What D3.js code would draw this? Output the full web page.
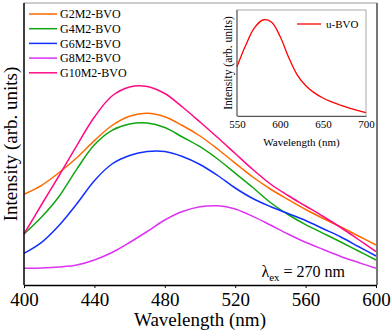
<!DOCTYPE html>
<html>
<head>
<meta charset="utf-8">
<script src="https://cdnjs.cloudflare.com/ajax/libs/d3/7.8.5/d3.min.js"></script>
<style>
  body { margin: 0; background: #fff; }
  text { font-family: "Liberation Serif", "Times New Roman", serif; fill: #000; }
</style>
</head>
<body>
<svg id="chart" width="392" height="333"></svg>
<script>
// emission spectra, 400-600 nm every 10 nm (arb. units)
const wavelengths = [400, 410, 420, 430, 440, 450, 460, 470, 480, 490, 500, 510, 520, 530, 540, 550, 560, 570, 580, 590, 600];
const g2m2 = [90.7, 99.7, 112.5, 127.3, 144.4, 159.5, 168.8, 171.7, 168.3, 159.5, 149, 136, 121.8, 108, 96, 85.5, 75.5, 66.5, 58, 49, 40];
const g4m2 = [51, 68, 88.8, 115.9, 140.2, 154.7, 161, 162, 157.5, 148, 138.3, 126, 111.8, 97.5, 82.5, 70.5, 60.4, 51.7, 43, 34, 25];
const g6m2 = [31.7, 42.7, 59.8, 81.2, 104.3, 121, 129.5, 133.5, 133.5, 128.5, 120.5, 109.5, 97, 86.5, 78.5, 71.5, 64.5, 56.2, 48, 38.5, 29];
const g8m2 = [16.7, 17, 18, 20, 25, 32.5, 42.5, 53.5, 65, 73.5, 78.3, 79.2, 76, 68.6, 60, 51, 42.7, 35.5, 28.5, 22.5, 16.7];
const g10m2 = [51, 80.5, 109.5, 139.4, 168, 189, 198, 198.5, 191.5, 178, 163, 147.5, 131.5, 115.5, 101, 89.5, 79, 68.5, 57.5, 45.5, 33.3];
const seriesNames = ["G2M2-BVO", "G4M2-BVO", "G6M2-BVO", "G8M2-BVO", "G10M2-BVO"];
const seriesColors = ["#ff6a00", "#11a611", "#1030ff", "#dd33f5", "#ff0a84"];
const xTicks = [400, 440, 480, 520, 560, 600];

// inset: u-BVO
const insetWl = [550, 560, 570, 580, 590, 600, 610, 620, 630, 640, 650, 660, 670, 680, 690, 700];
const insetVals = [49.3, 70.4, 87.8, 96, 94, 79.8, 58.8, 41.2, 30.3, 23.1, 18, 14.1, 11, 8.1, 5.7, 3.3];
const insetTicks = [550, 600, 650, 700];

const svg = d3.select("#chart");

const plot = { left: 24, right: 376, top: 3, bottom: 285 };
const x = d3.scaleLinear().domain([400, 600]).range([plot.left, plot.right]);
const y = d3.scaleLinear().domain([0, 282]).range([plot.bottom, plot.top]);

const allSeries = [g2m2, g4m2, g6m2, g8m2, g10m2];

const line = d3.line()
    .x((d, i) => x(wavelengths[i]))
    .y(d => y(d))
    .curve(d3.curveCatmullRom.alpha(0.5));

// frame top/right (grey)
svg.append("line").attr("x1", plot.left).attr("x2", plot.right + 1)
    .attr("y1", plot.top).attr("y2", plot.top).attr("stroke", "#999").attr("stroke-width", 1);
svg.append("line").attr("x1", plot.right + 1).attr("x2", plot.right + 1)
    .attr("y1", plot.top).attr("y2", plot.bottom).attr("stroke", "#777").attr("stroke-width", 2);

// curves
allSeries.forEach((s, k) => {
    svg.append("path")
        .datum(s)
        .attr("d", line)
        .attr("fill", "none")
        .attr("stroke", seriesColors[k])
        .attr("stroke-width", 1.5);
});

// bottom axis
const xAxis = svg.append("g")
    .attr("transform", "translate(0," + plot.bottom + ")")
    .call(d3.axisBottom(x).tickValues(xTicks).tickSize(3).tickSizeOuter(0).tickPadding(5));
xAxis.select(".domain").attr("stroke", "#000").attr("stroke-width", 1.5);
xAxis.selectAll("text").style("font-family", "Liberation Serif").style("font-size", "19px").attr("fill", "#000");

// left axis line
svg.append("line").attr("x1", plot.left).attr("x2", plot.left)
    .attr("y1", plot.top).attr("y2", plot.bottom).attr("stroke", "#000").attr("stroke-width", 1.5);

svg.append("text")
    .attr("x", (plot.left + plot.right) / 2).attr("y", 326)
    .attr("text-anchor", "middle").style("font-size", "19px")
    .text("Wavelength (nm)");

svg.append("text")
    .attr("transform", "translate(17," + ((plot.top + plot.bottom) / 2) + ") rotate(-90)")
    .attr("text-anchor", "middle").style("font-size", "19px")
    .text("Intensity (arb. units)");

// excitation label
const ex = svg.append("text").attr("x", 345).attr("y", 277)
    .attr("text-anchor", "end").style("font-size", "16px");
ex.append("tspan").text("λ");
ex.append("tspan").attr("dy", 4).style("font-size", "11px").text("ex");
ex.append("tspan").attr("dy", -4).text(" = 270 nm");

// legend
seriesNames.forEach((name, k) => {
    const ly = 14 + k * 14.7;
    svg.append("line").attr("x1", 29).attr("x2", 57).attr("y1", ly).attr("y2", ly)
        .attr("stroke", seriesColors[k]).attr("stroke-width", 1.5);
    svg.append("text").attr("x", 60).attr("y", ly + 4.3)
        .style("font-size", "12px").text(name);
});

// inset
const inset = { left: 237, right: 366, top: 10, bottom: 116 };
const ix = d3.scaleLinear().domain([550, 700]).range([inset.left, inset.right]);
const iy = d3.scaleLinear().domain([0, 106]).range([inset.bottom, inset.top]);

svg.append("rect").attr("x", inset.left).attr("y", inset.top)
    .attr("width", inset.right - inset.left).attr("height", inset.bottom - inset.top)
    .attr("fill", "#fff").attr("stroke", "#aaa").attr("stroke-width", 1);

svg.append("path")
    .datum(insetVals)
    .attr("d", d3.line().x((d, i) => ix(insetWl[i])).y(d => iy(d)).curve(d3.curveCatmullRom.alpha(0.5)))
    .attr("fill", "none").attr("stroke", "#ff0000").attr("stroke-width", 1.3);

const ixAxis = svg.append("g")
    .attr("transform", "translate(0," + inset.bottom + ")")
    .call(d3.axisBottom(ix).tickValues(insetTicks).tickSize(0).tickSizeOuter(0).tickPadding(4));
ixAxis.select(".domain").attr("stroke", "#555").attr("stroke-width", 1);
ixAxis.selectAll("text").style("font-family", "Liberation Serif").style("font-size", "11px").attr("fill", "#000");

svg.append("line").attr("x1", inset.left).attr("x2", inset.left)
    .attr("y1", inset.top).attr("y2", inset.bottom).attr("stroke", "#555").attr("stroke-width", 1);

svg.append("text")
    .attr("x", (inset.left + inset.right) / 2).attr("y", 146)
    .attr("text-anchor", "middle").style("font-size", "11px")
    .text("Wavelength (nm)");

svg.append("text")
    .attr("transform", "translate(232," + ((inset.top + inset.bottom) / 2) + ") rotate(-90)")
    .attr("text-anchor", "middle").style("font-size", "11.5px")
    .text("Intensity (arb. units)");

svg.append("line").attr("x1", 297).attr("x2", 321).attr("y1", 24).attr("y2", 24)
    .attr("stroke", "#ff0000").attr("stroke-width", 1.3);
svg.append("text").attr("x", 326).attr("y", 28).style("font-size", "11px").text("u-BVO");
</script>
</body>
</html>
